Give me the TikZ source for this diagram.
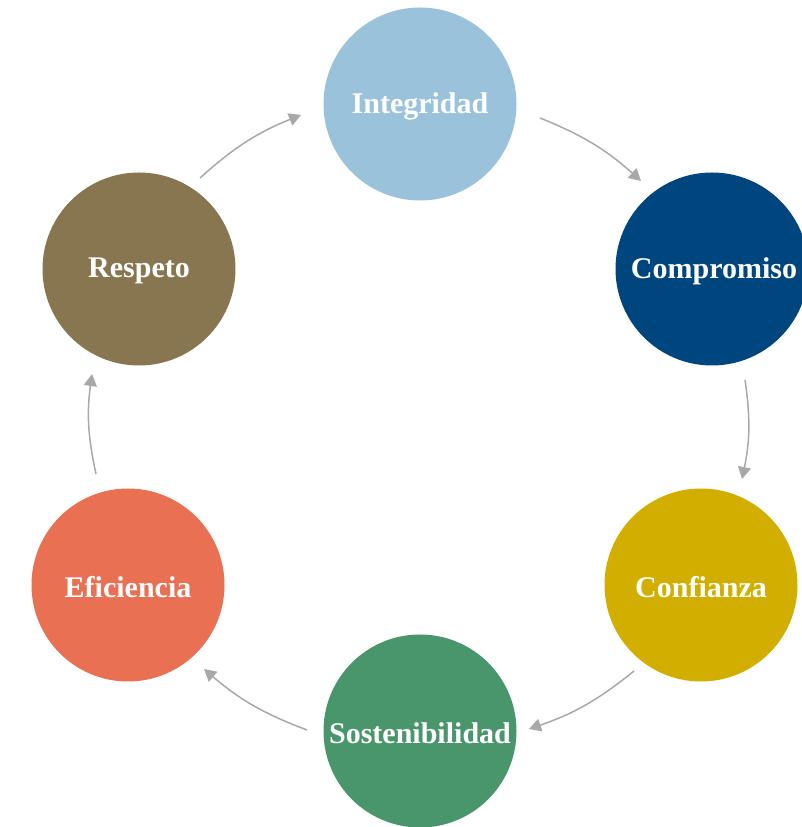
\documentclass[tikz,border=0pt]{standalone}
\usepackage{fontspec}
\setmainfont{Liberation Serif}
\usetikzlibrary{arrows.meta}
\definecolor{cInt}{RGB}{155,194,219}
\definecolor{cCom}{RGB}{0,70,126}
\definecolor{cCon}{RGB}{210,174,0}
\definecolor{cSos}{RGB}{73,150,108}
\definecolor{cEfi}{RGB}{233,112,82}
\definecolor{cRes}{RGB}{136,118,80}
\definecolor{arrgray}{RGB}{168,168,168}
\begin{document}
\begin{tikzpicture}[x=1pt,y=1pt,
  val/.style={circle,minimum size=193pt,inner sep=0pt,text=white,font=\fontsize{30}{34}\selectfont\bfseries},
  lbl/.style={text=white,font=\fontsize{30}{34}\selectfont\bfseries,inner sep=0pt},
  arr/.style={draw=arrgray,line width=1.5pt,-{Triangle[length=12pt,width=13pt]}}]
\useasboundingbox (0,0) rectangle (801,827);
\node[val,fill=cInt] (int) at (420,723) {};
\node[val,fill=cCom] (com) at (712,558) {};
\node[val,fill=cCon] (con) at (701,242) {};
\node[val,fill=cSos] (sos) at (420,96) {};
\node[val,fill=cEfi] (efi) at (128,242) {};
\node[val,fill=cRes] (res) at (139,558) {};
\node[lbl] (tint) at ([yshift=-2pt]int.center) {Integridad};
\node[lbl] (tcom) at ([xshift=2pt,yshift=-2pt]com.center) {Compromiso};
\node[lbl] (tcon) at ([yshift=-2pt]con.center) {Confianza};
\node[lbl] (tsos) at ([yshift=-2pt]sos.center) {Sostenibilidad};
\node[lbl] (tefi) at ([yshift=-2pt]efi.center) {Eficiencia};
\node[lbl] (tres) at ([yshift=-2pt]res.center) {Respeto};
\coordinate (s1) at (200,649); \coordinate (e1) at (301,712);
\coordinate (s2) at (540,709); \coordinate (e2) at (641,646);
\coordinate (s3) at (745,447); \coordinate (e3) at (742,348);
\coordinate (s4) at (634,156); \coordinate (e4) at (529,98);
\coordinate (s5) at (307,97);  \coordinate (e5) at (204,158);
\coordinate (s6) at (96,353);  \coordinate (e6) at (92,453);
\draw[arr] (s1) to[bend left=10] (e1);
\draw[arr] (s2) to[bend left=10] (e2);
\draw[arr] (s3) to[bend left=10] (e3);
\draw[arr] (s4) to[bend left=10] (e4);
\draw[arr] (s5) to[bend left=10] (e5);
\draw[arr] (s6) to[bend left=10] (e6);
\end{tikzpicture}
\end{document}
